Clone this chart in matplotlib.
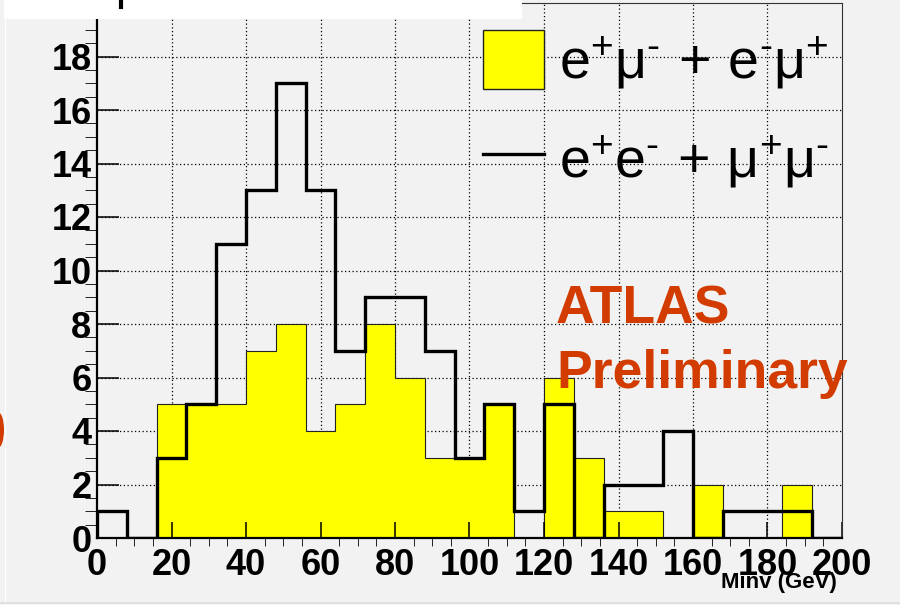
import numpy as np
import matplotlib.pyplot as plt
from matplotlib.patches import Patch, Rectangle, Ellipse
from matplotlib.lines import Line2D

plt.rcParams['font.family'] = ['Liberation Sans', 'DejaVu Sans']
plt.rcParams['mathtext.fontset'] = 'custom'
plt.rcParams['mathtext.rm'] = 'Liberation Sans'
plt.rcParams['mathtext.it'] = 'Liberation Sans:italic'
plt.rcParams['mathtext.bf'] = 'Liberation Sans:bold'

# invariant mass bins, 8 GeV wide
edges = np.arange(0, 201, 8)

# e+mu- + e-mu+ (filled)
emu = [0, 0, 5, 5, 5, 7, 8, 4, 5, 8, 6, 3, 3, 5, 0, 6, 3, 1, 1, 0, 2, 0, 0, 2, 0]
# e+e- + mu+mu- (outline)
ee_mumu = [1, 0, 3, 5, 11, 13, 17, 13, 7, 9, 9, 7, 3, 5, 1, 5, 0, 2, 2, 4, 0, 1, 1, 1, 0]

labels = [r'$\mathrm{e^{+}\mu^{\text{-}}\,+\,e^{\text{-}}\mu^{+}}$',
          r'$\mathrm{e^{+}e^{\text{-}}\,+\,\mu^{+}\mu^{\text{-}}}$']

xticks = list(range(0, 201, 20))
yticks = list(range(0, 19, 2))

bg = '#f2f2f2'
atlas_red = '#d23c00'

W, H = 900, 605
fig = plt.figure(figsize=(W / 100, H / 100), dpi=100, facecolor=bg)
ax = fig.add_axes([97 / W, 67 / H, 745 / W, 535 / H])
ax.set_facecolor(bg)

# dotted grid behind the histograms
for x in xticks[1:-1]:
    ax.axvline(x, color='black', ls=(0, (1, 2)), lw=0.9, zorder=0.5)
for y in yticks[1:]:
    ax.axhline(y, color='black', ls=(0, (1, 2)), lw=0.9, zorder=0.5)

ax.stairs(emu, edges, fill=True, facecolor='#ffff00', edgecolor='#222222',
          lw=0.8, zorder=1.5)
ax.stairs(ee_mumu, edges, fill=False, color='black', lw=2.4, baseline=0, zorder=3)

ax.set_xlim(0, 200)
ax.set_ylim(0, 20)
ax.set_xticks(xticks)
ax.set_yticks(yticks)
ax.set_xticks(np.arange(0, 201, 5), minor=True)
ax.set_yticks(np.arange(0, 20.01, 0.5), minor=True)
ax.tick_params(direction='in', width=1.1, labelsize=26)
ax.tick_params(axis='x', which='major', length=11.5, pad=7)
ax.tick_params(axis='x', which='minor', length=5.8)
ax.tick_params(axis='y', which='major', length=15.8, pad=4)
ax.tick_params(axis='y', which='minor', length=8.6)
plt.setp(ax.get_xticklabels() + ax.get_yticklabels(), fontweight='bold')

for side in ['left', 'bottom']:
    ax.spines[side].set_linewidth(1.6)
for side in ['top', 'right']:
    ax.spines[side].set_linewidth(0.8)
    ax.spines[side].set_color('#333333')

fig.text(837 / W, 1 - 588 / H, 'Minv (GeV)', ha='right', va='baseline',
         fontsize=16, fontweight='bold')

handles = [Patch(facecolor='#ffff00', edgecolor='#222222', lw=1.0),
           Line2D([], [], color='black', lw=2.4)]
ax.legend(handles, labels, loc='upper left',
          bbox_to_anchor=(483 / W, 1 - 30 / H), bbox_transform=fig.transFigure,
          frameon=False, prop={'size': 40}, handlelength=1.1, handleheight=1.26,
          handletextpad=0.27, labelspacing=0.7, borderpad=0, borderaxespad=0)

fig.text(556 / W, 1 - 323 / H, 'ATLAS', color=atlas_red, fontsize=38.5,
         fontweight='bold', va='baseline')
fig.text(556 / W, 1 - 388 / H, 'Preliminary', color=atlas_red, fontsize=38.5,
         fontweight='bold', va='baseline')

# title pad strip at the top and frame edges
fig.patches.append(Rectangle((4 / W, 1 - 19 / H), 518 / W, 19 / H,
                             transform=fig.transFigure, facecolor='white',
                             edgecolor='none', zorder=5))
fig.lines.append(Line2D([120.5 / W, 120.5 / W], [1, 1 - 7 / H],
                        transform=fig.transFigure, color='black', lw=3, zorder=6))
fig.lines.append(Line2D([4.5 / W, 4.5 / W], [0, 1], transform=fig.transFigure,
                        color='white', lw=0.8, zorder=5))
fig.lines.append(Line2D([0, 1], [2 / H, 2 / H], transform=fig.transFigure,
                        color='#dddddd', lw=1.2, zorder=5))
fig.patches.append(Ellipse((-2 / W, 1 - 430 / H), 12 / W, 36 / H,
                           transform=fig.transFigure, facecolor=atlas_red,
                           edgecolor='none', zorder=5))

fig.savefig('out.png', dpi=100, facecolor=bg)
